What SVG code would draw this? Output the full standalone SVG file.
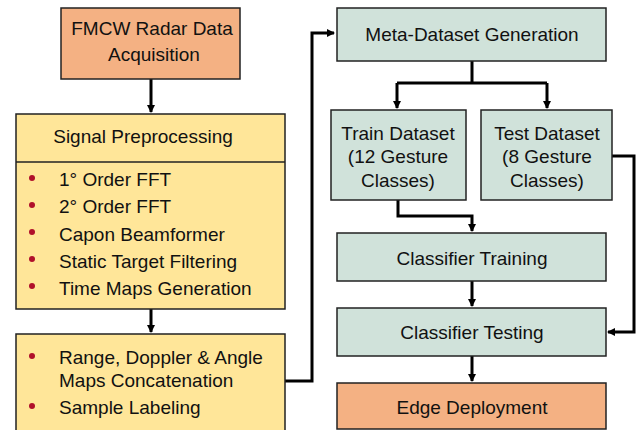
<svg xmlns="http://www.w3.org/2000/svg" width="644" height="430" viewBox="0 0 644 430">
<defs>
<marker id="ah" markerWidth="8" markerHeight="8" refX="7" refY="4" orient="auto" markerUnits="userSpaceOnUse">
<path d="M0,0 L8,4 L0,8 Z" fill="#000"/>
</marker>
<style>
.box{stroke:#222;stroke-width:1.5}
.or{fill:#F4B183}
.ye{fill:#FFE699}
.te{fill:#D0E2DA}
text{font-family:"Liberation Sans",Arial,sans-serif;font-size:19px;fill:#111}
.c{text-anchor:middle}
.dot{fill:#B0102A}
.con{fill:none;stroke:#000;stroke-width:3}
</style>
</defs>
<g id="connectors">
<path class="con" d="M151,79 V112" marker-end="url(#ah)"/>
<path class="con" d="M151,309 V332" marker-end="url(#ah)"/>
<path class="con" d="M285,381 H312 V33 H334" marker-end="url(#ah)"/>
<path class="con" d="M472,61 V83 M397,83 H547"/>
<path class="con" d="M397,83 V108" marker-end="url(#ah)"/>
<path class="con" d="M547,83 V108" marker-end="url(#ah)"/>
<path class="con" d="M398,200 V216 H472 V231" marker-end="url(#ah)"/>
<path class="con" d="M612,156 H634 V332 H608" marker-end="url(#ah)"/>
<path class="con" d="M472,281 V306" marker-end="url(#ah)"/>
<path class="con" d="M472,356 V381" marker-end="url(#ah)"/>
</g>
<g id="fmcw">
<rect class="box or" x="61" y="8" width="179" height="71"/>
<text class="c" x="152" y="35">FMCW Radar Data</text>
<text class="c" x="154" y="61">Acquisition</text>
</g>
<g id="preproc">
<rect class="box ye" x="16" y="114" width="269" height="195"/>
<line class="box" x1="16" y1="162" x2="285" y2="162"/>
<text class="c" x="143" y="143">Signal Preprocessing</text>
<circle class="dot" cx="32" cy="178" r="3"/>
<circle class="dot" cx="32" cy="205" r="3"/>
<circle class="dot" cx="32" cy="232" r="3"/>
<circle class="dot" cx="32" cy="259" r="3"/>
<circle class="dot" cx="32" cy="286" r="3"/>
<text x="59" y="186">1° Order FFT</text>
<text x="59" y="213">2° Order FFT</text>
<text x="59" y="241">Capon Beamformer</text>
<text x="59" y="268">Static Target Filtering</text>
<text x="59" y="295">Time Maps Generation</text>
</g>
<g id="concat">
<rect class="box ye" x="16" y="334" width="269" height="100"/>
<circle class="dot" cx="32" cy="356" r="3"/>
<circle class="dot" cx="32" cy="406" r="3"/>
<text x="59" y="364">Range, Doppler &amp; Angle</text>
<text x="59" y="387">Maps Concatenation</text>
<text x="59" y="414">Sample Labeling</text>
</g>
<g id="meta">
<rect class="box te" x="337" y="8" width="269" height="53"/>
<text class="c" x="472" y="41">Meta-Dataset Generation</text>
</g>
<g id="train">
<rect class="box te" x="331" y="110" width="135" height="90"/>
<text class="c" x="398" y="140">Train Dataset</text>
<text class="c" x="398" y="163">(12 Gesture</text>
<text class="c" x="398" y="187">Classes)</text>
</g>
<g id="test">
<rect class="box te" x="481" y="110" width="131" height="90"/>
<text class="c" x="547" y="140">Test Dataset</text>
<text class="c" x="547" y="163">(8 Gesture</text>
<text class="c" x="547" y="187">Classes)</text>
</g>
<g id="training">
<rect class="box te" x="337" y="233" width="269" height="48"/>
<text class="c" x="472" y="265">Classifier Training</text>
</g>
<g id="testing">
<rect class="box te" x="337" y="308" width="269" height="48"/>
<text class="c" x="472" y="339">Classifier Testing</text>
</g>
<g id="edge">
<rect class="box or" x="337" y="383" width="269" height="46"/>
<text class="c" x="472" y="414">Edge Deployment</text>
</g>
</svg>
